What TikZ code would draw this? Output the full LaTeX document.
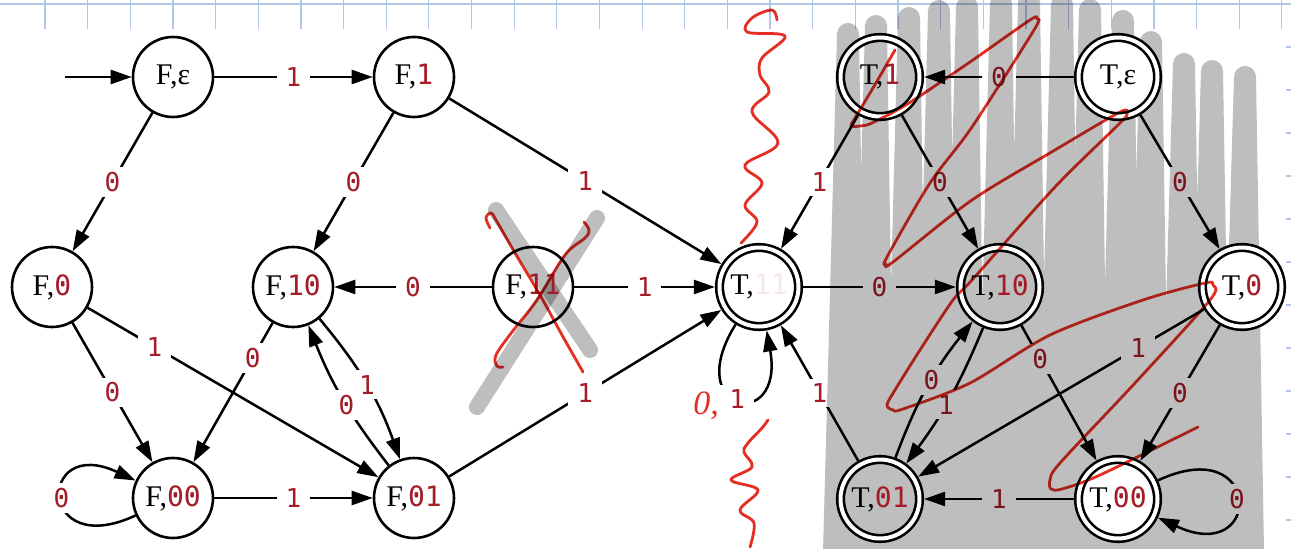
\documentclass[tikz,border=0pt]{standalone}
\usepackage{fontspec}
\setmainfont{Liberation Serif}
\newfontfamily\dmono{DejaVu Sans Mono}
\usetikzlibrary{arrows.meta}
\definecolor{dred}{RGB}{163,28,40}
\definecolor{pen}{RGB}{228,46,34}
\definecolor{scrib}{RGB}{190,190,190}
\definecolor{gridblue}{RGB}{178,198,230}
\definecolor{ghost}{RGB}{247,232,232}
\pgfdeclarelayer{bg}
\pgfdeclarelayer{edges}
\pgfdeclarelayer{scribble}
\pgfdeclarelayer{ink}
\pgfsetlayers{bg,edges,scribble,main,ink}
\newcommand\Z{\rlap{\raisebox{0.04em}{·}}0}
\newcommand\dg[1]{{\dmono\fontsize{14}{14}\selectfont\color{dred}#1}}
\tikzset{
  fst/.style={circle, draw, line width=1.3pt, minimum size=40pt, inner sep=0pt, font=\fontsize{15}{15}\selectfont},
  tst/.style={fst, minimum size=39.5pt, double, double distance=2pt, outer sep=2.3pt},
  lbl/.style={fill=white, text=dred, font=\dmono\fontsize{13}{13}\selectfont, inner xsep=4.5pt, inner ysep=2.5pt},
  tr/.style={-{Triangle[length=10.5pt,width=7pt]}, line width=1.25pt},
  pentrace/.style={pen, line width=1.4pt, line cap=round, line join=round},
  gridline/.style={gridblue, line width=0.6pt},
  scribble/.style={scrib, line cap=round, line join=round}
}
\begin{document}
\begin{tikzpicture}[x=0.5pt,y=0.5pt]
\useasboundingbox (0,0) rectangle (1291,548);
\begin{pgfonlayer}{bg}
\fill[white] (0,0) rectangle (1291,548);
\draw[gridline] (0,544) -- (1291,544);
\foreach \i in {0,...,29}{\draw[gridline] ({45+42.65*\i},548) -- ({45+42.65*\i},519);}
\foreach \yy in {501,458,...,28}{\draw[gridline] (1286,\yy) -- (1291,\yy);}
\end{pgfonlayer}

% states
\node[fst] (fe) at (173,471) {F,ε};
\node[fst] (f1) at (414,471) {F,\dg{1}};
\node[fst] (f0) at (52,261) {F,\dg{\Z}};
\node[fst] (f10) at (293,261) {F,\dg{1\Z}};
\node[fst] (f11) at (533,261) {F,\dg{11}};
\node[fst] (f00) at (173,50) {F,\dg{\Z\Z}};
\node[fst] (f01) at (414,50) {F,\dg{\Z1}};
\node[tst] (t1) at (880,471) {T,\dg{1}};
\node[tst,fill=white] (te) at (1118,471) {T,ε};
\node[tst] (t11) at (759,261) {T,{\dmono\fontsize{14}{14}\selectfont\color{ghost}11}};
\node[tst] (t10) at (1000,261) {T,\dg{1\Z}};
\node[tst,fill=white] (t0) at (1242,261) {T,\dg{\Z}};
\node[tst] (t01) at (880,49) {T,\dg{\Z1}};
\node[tst,fill=white] (t00) at (1118,49) {T,\dg{\Z\Z}};
\coordinate (start) at (65,471);

\begin{pgfonlayer}{edges}
\draw[tr] (start) -- (fe);
\draw[tr] (fe) -- node[lbl]{1} (f1);
\draw[tr] (fe) -- node[lbl]{\Z} (f0);
\draw[tr] (f1) -- node[lbl]{\Z} (f10);
\draw[tr] (f1) -- node[lbl]{1} (t11);
\draw[tr] (f11) -- node[lbl]{\Z} (f10);
\draw[tr] (f11) -- node[lbl]{1} (t11);
\draw[tr] (f0) -- node[lbl]{\Z} (f00);
\draw[tr] (f0) -- node[lbl,pos=0.23]{1} (f01);
\draw[tr] (f10) -- node[lbl,pos=0.25]{\Z} (f00);
\draw[tr] (f10) to[bend left=10] node[lbl]{1} (f01);
\draw[tr] (f01) to[bend left=8] node[lbl,pos=0.45]{\Z} (f10);
\draw[tr] (f00) to[out=205,in=155,looseness=8] node[lbl]{\Z} (f00);
\draw[tr] (f00) -- node[lbl]{1} (f01);
\draw[tr] (f01) -- node[lbl]{1} (t11);
\draw[tr] (te) -- node[lbl]{\Z} (t1);
\draw[tr] (t1) -- node[lbl]{1} (t11);
\draw[tr] (t1) -- node[lbl]{\Z} (t10);
\draw[tr] (te) -- node[lbl]{\Z} (t0);
\draw[tr] (t11) -- node[lbl]{\Z} (t10);
\draw[tr] (t11) to[out=-122,in=-80,looseness=8.5] node[lbl]{1} (t11);
\draw[tr] (t01) -- node[lbl]{1} (t11);
\draw[tr] (t01) to[bend left=9] node[lbl,pos=0.55]{\Z} (t10);
\draw[tr] (t10) to[bend left=7] node[lbl,pos=0.55]{1} (t01);
\draw[tr] (t10) -- node[lbl,pos=0.25]{\Z} (t00);
\draw[tr] (t0) -- node[lbl,pos=0.23]{1} (t01);
\draw[tr] (t0) -- node[lbl]{\Z} (t00);
\draw[tr] (t00) -- node[lbl]{1} (t01);
\draw[tr] (t00) to[out=25,in=-25,looseness=8] node[lbl]{\Z} (t00);
\end{pgfonlayer}

\begin{pgfonlayer}{scribble}
\begin{scope}[blend mode=multiply, shift={(0,548)}, yscale=-1]
\draw[scribble, line width=11pt] (834,552)
  \foreach \x/\t in {834/34,862/26,895/18,925/11,953/7,987/4,1015/3,1048/5,1076/10,1109/21,1137/42,1170/64,1198/71,1231/77}
  { -- (\x,552) -- ({\x+14},\t) -- ({\x+22},552) };
\draw[scribble, line width=8pt] (496,210) -- (590,350);
\draw[scribble, line width=8pt] (597,218) -- (477,407);
\end{scope}
\end{pgfonlayer}

\begin{pgfonlayer}{ink}
\begin{scope}[blend mode=multiply, shift={(0,548)}, yscale=-1]
% red X over F,11
\draw[pentrace] plot[smooth, tension=0.6] coordinates {(490,228) (486,218) (491,213) (496,220) (515,253) (540,295) (562,335) (583,372)};
\draw[pentrace] plot[smooth, tension=0.6] coordinates {(584,222) (589,230) (585,238) (565,255) (537,300) (512,332) (496,355) (497,366) (503,367)};
% wavy separators
\draw[pentrace] plot[smooth, tension=0.6] coordinates {(777,20) (772,10) (752,18) (747,32) (785,36) (762,58) (760,75) (769,92) (752,112) (778,143) (745,165) (762,183) (745,205) (757,222) (741,243)};
\draw[pentrace] plot[smooth, tension=0.6] coordinates {(768,420) (762,428) (748,443) (744,452) (752,467) (731,480) (758,490) (740,510) (754,523) (750,547)};
% long looping scribble
\draw[pentrace] plot[smooth, tension=0.5] coordinates {(895,50) (873,88) (855,118) (851,126) (860,126) (872,123) (909,103) (970,62) (1030,20) (1037,19) (1034,30) (972,127) (930,183) (887,257) (886,264) (893,262) (972,200) (1055,150) (1120,112) (1127,114) (1119,124) (1055,187) (972,280) (953,300) (920,350) (895,390) (887,405) (893,410) (903,409) (970,383) (1050,335) (1143,300) (1205,283) (1213,285) (1210,300) (1135,383) (1060,463) (1050,480) (1051,489) (1062,489) (1100,475) (1198,427)};
\node[text=pen, font=\itshape\fontsize{17}{17}\selectfont, inner sep=0pt] (hw) at (706,406) {0,};
\end{scope}
\end{pgfonlayer}
\end{tikzpicture}
\end{document}
